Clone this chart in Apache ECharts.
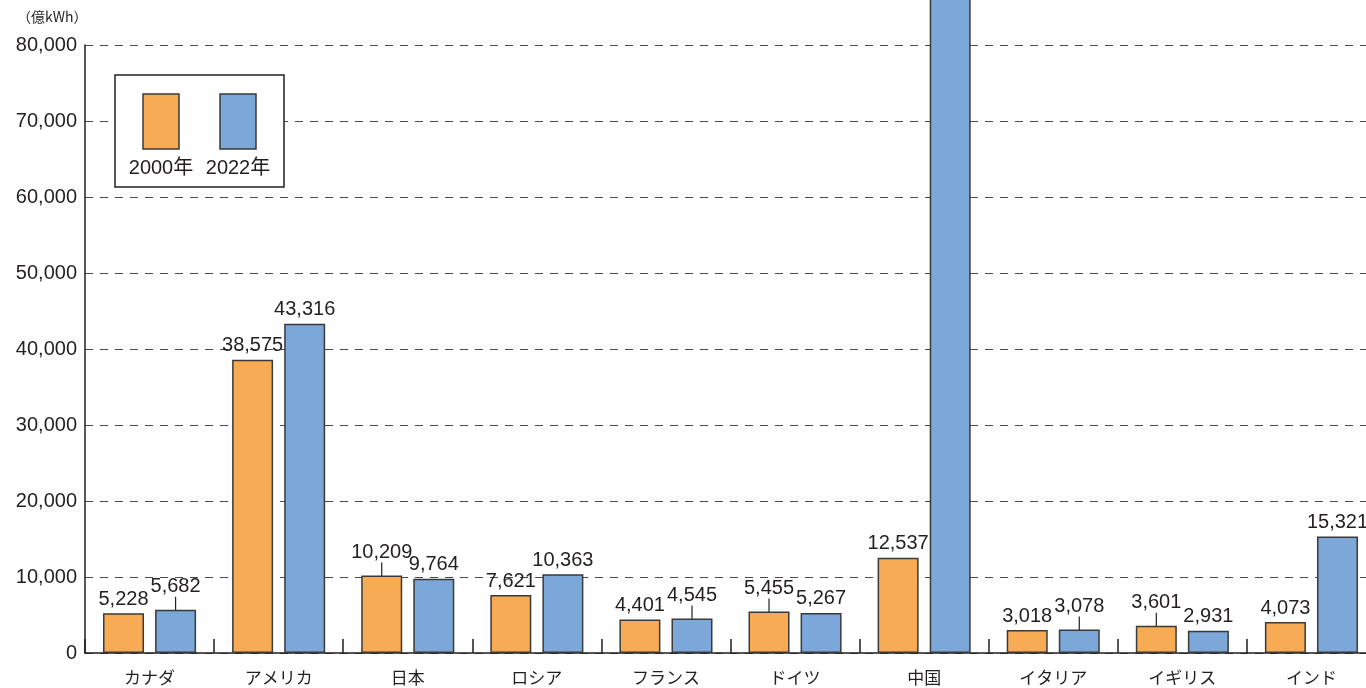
<!DOCTYPE html>
<html>
<head>
<meta charset="utf-8">
<script src="https://cdn.jsdelivr.net/npm/echarts@6/dist/echarts.min.js"></script>
<style>
html,body{margin:0;padding:0;background:#fff;}
#chart{width:1366px;height:688px;}
</style>
</head>
<body>
<div id="chart"></div>
<script>
const categories = ['カナダ','アメリカ','日本','ロシア','フランス','ドイツ','中国','イタリア','イギリス','インド'];
const seriesNames = ['2000年','2022年'];
const values2000 = [5228, 38575, 10209, 7621, 4401, 5455, 12537, 3018, 3601, 4073];
const values2022 = [5682, 43316, 9764, 10363, 4545, 5267, 88487, 3078, 2931, 15321];
const unitLabel = '（億kWh）';

const ORANGE = '#f7ab55';
const BLUE = '#7ba7d9';
const INK = '#231f20';
const FONT = "'Liberation Sans', 'Noto Sans CJK JP', sans-serif";
const JFONT = "'Noto Sans CJK JP', 'Liberation Sans', sans-serif";

// labels lifted with a leader line (series index -> data indices)
const raised = {0: [2, 5, 8], 1: [0, 4, 7]};
const hidden = {0: [], 1: [6]};

const fmt = v => v.toLocaleString('en-US');

function makeSeries(idx, name, values, color) {
  return {
    name: name,
    type: 'bar',
    data: values.map((v, i) => ({
      value: v,
      labelLine: {show: raised[idx].includes(i)}
    })),
    barWidth: 41,
    barGap: '27%',
    clip: false,
    itemStyle: {color: color, borderColor: '#3a3a3a', borderWidth: 1.5},
    label: {
      show: true,
      position: 'top',
      distance: 4,
      color: INK,
      fontSize: 20,
      fontFamily: FONT,
      formatter: p => hidden[idx].includes(p.dataIndex) ? '' : fmt(p.value)
    },
    labelLayout: p => (raised[idx].includes(p.dataIndex) ? {dy: -9} : {}),
    labelLine: {show: false, length2: 0, lineStyle: {color: INK, width: 1.2}},
    emphasis: {disabled: true}
  };
}

const chart = echarts.init(document.getElementById('chart'));
chart.setOption({
  animation: false,
  backgroundColor: '#fff',
  grid: {left: 85, width: 1291, top: 45, height: 608, containLabel: false, outerBoundsMode: 'none'},
  xAxis: {
    type: 'category',
    data: categories,
    axisLine: {lineStyle: {color: INK, width: 1.5}},
    axisTick: {show: true, inside: true, length: 14, lineStyle: {color: INK, width: 1.5}},
    axisLabel: {color: INK, fontSize: 17, fontFamily: JFONT, margin: 16}
  },
  yAxis: {
    type: 'value',
    min: 0,
    max: 80000,
    interval: 10000,
    axisLine: {show: true, lineStyle: {color: INK, width: 1.5}},
    axisTick: {show: false},
    axisLabel: {color: INK, fontSize: 20, fontFamily: FONT, margin: 8, formatter: v => fmt(v)},
    splitLine: {show: true, lineStyle: {color: '#4a4a4a', width: 1, type: [8, 7]}}
  },
  series: [
    makeSeries(0, seriesNames[0], values2000, ORANGE),
    makeSeries(1, seriesNames[1], values2022, BLUE)
  ],
  graphic: [
    {type: 'text', left: 17, top: 10, z: 100,
     style: {text: unitLabel, fill: INK, font: "14px " + JFONT}},
    {type: 'rect', shape: {x: 115, y: 75, width: 169, height: 112}, z: 100,
     style: {fill: '#fff', stroke: INK, lineWidth: 1.5}},
    {type: 'rect', shape: {x: 143, y: 94, width: 36, height: 55}, z: 101,
     style: {fill: ORANGE, stroke: '#3a3a3a', lineWidth: 1.5}},
    {type: 'rect', shape: {x: 220, y: 94, width: 36, height: 55}, z: 101,
     style: {fill: BLUE, stroke: '#3a3a3a', lineWidth: 1.5}},
    {type: 'text', x: 161, y: 168, z: 101,
     style: {text: seriesNames[0], fill: INK, font: "20px " + FONT, align: 'center', verticalAlign: 'middle'}},
    {type: 'text', x: 238, y: 168, z: 101,
     style: {text: seriesNames[1], fill: INK, font: "20px " + FONT, align: 'center', verticalAlign: 'middle'}}
  ]
});
</script>
</body>
</html>
